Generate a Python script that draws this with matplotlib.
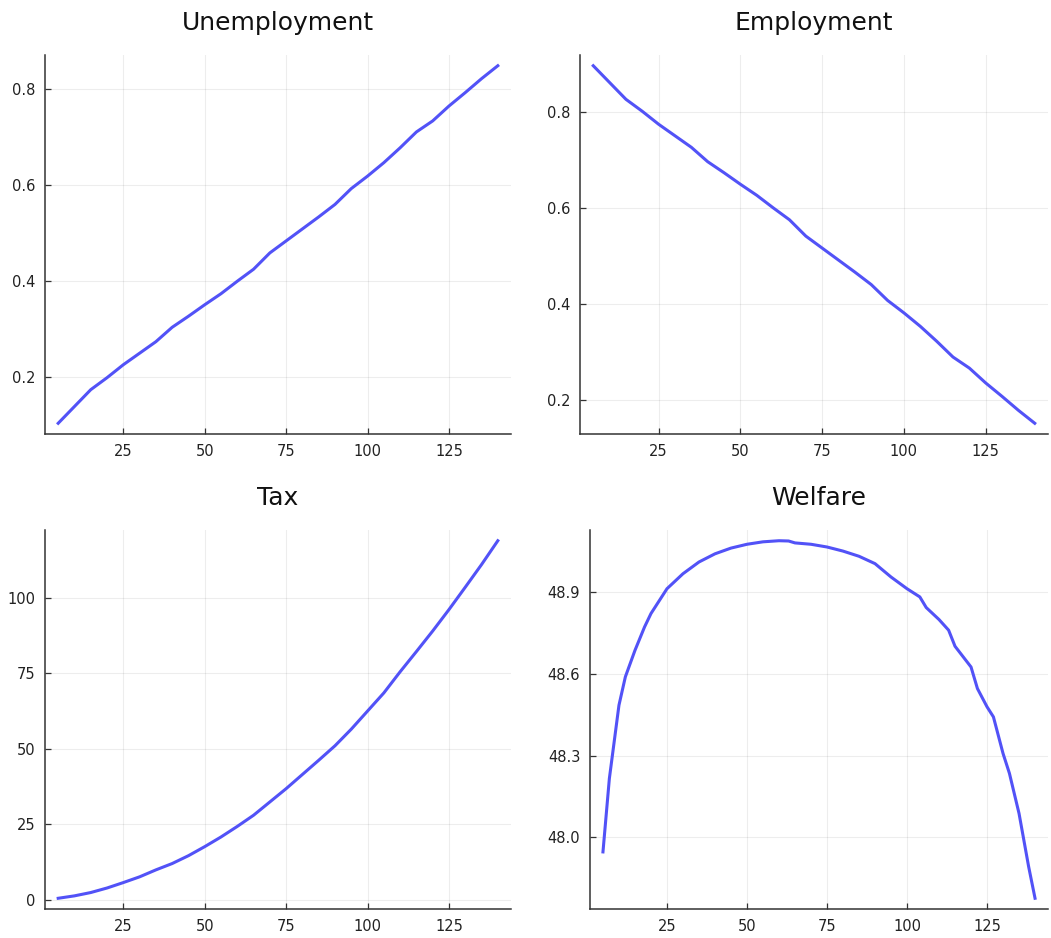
import matplotlib
matplotlib.use("Agg")
import matplotlib.pyplot as plt

# Benefit level on the horizontal axis
x_coarse = [5, 10, 15, 20, 25, 30, 35, 40, 45, 50, 55, 60, 65, 70,
            75, 80, 85, 90, 95, 100, 105, 110, 115, 120, 125, 130, 135, 140]

unemployment = [0.104, 0.139, 0.174, 0.199, 0.226, 0.250, 0.274, 0.304,
                0.327, 0.351, 0.374, 0.400, 0.425, 0.459, 0.484, 0.509,
                0.534, 0.560, 0.593, 0.619, 0.647, 0.678, 0.711, 0.734,
                0.765, 0.793, 0.822, 0.849]

employment = [0.896, 0.861, 0.826, 0.801, 0.774, 0.750, 0.726, 0.696,
              0.673, 0.649, 0.626, 0.600, 0.575, 0.541, 0.516, 0.491,
              0.466, 0.440, 0.407, 0.381, 0.353, 0.322, 0.289, 0.266,
              0.235, 0.207, 0.178, 0.151]

tax = [0.5, 1.3, 2.4, 3.9, 5.7, 7.6, 9.9, 12.0, 14.6, 17.6, 20.8, 24.3,
       28.0, 32.4, 36.8, 41.5, 46.2, 51.0, 56.5, 62.5, 68.5, 75.5, 82.2,
       89.0, 96.1, 103.5, 111.0, 118.9]

x_welfare = [5, 7, 10, 12, 15, 18, 20, 25, 30, 35, 40, 45, 50, 55, 60, 63,
             65, 70, 75, 80, 85, 90, 95, 100, 104, 106, 110, 113, 115, 120,
             122, 125, 127, 130, 132, 135, 138, 140]
welfare = [47.947, 48.216, 48.485, 48.589, 48.686, 48.772, 48.821, 48.912,
           48.967, 49.010, 49.040, 49.061, 49.075, 49.084, 49.088, 49.087,
           49.080, 49.075, 49.065, 49.050, 49.031, 49.004, 48.955, 48.912,
           48.882, 48.843, 48.799, 48.760, 48.701, 48.625, 48.546, 48.479,
           48.442, 48.308, 48.235, 48.088, 47.893, 47.777]

x_ticks = [25, 50, 75, 100, 125]
titles = ["Unemployment", "Employment", "Tax", "Welfare"]
y_ticks = [[0.2, 0.4, 0.6, 0.8],
           [0.2, 0.4, 0.6, 0.8],
           [0, 25, 50, 75, 100],
           [48.0, 48.3, 48.6, 48.9]]
y_labels = [["0.2", "0.4", "0.6", "0.8"],
            ["0.2", "0.4", "0.6", "0.8"],
            ["0", "25", "50", "75", "100"],
            ["48.0", "48.3", "48.6", "48.9"]]

series = [(x_coarse, unemployment), (x_coarse, employment),
          (x_coarse, tax), (x_welfare, welfare)]

W, H = 1051, 938
fig = plt.figure(figsize=(W / 100, H / 100), dpi=100)

# panel rectangles in pixels: left, right, top, bottom
boxes = [(45, 511, 55, 434), (580, 1048, 55, 434),
         (45, 511, 530, 909), (590, 1048, 530, 909)]

line_color = "#5252f7"
for i, (l, r, t, b) in enumerate(boxes):
    ax = fig.add_axes([l / W, 1 - b / H, (r - l) / W, (b - t) / H])
    xs, ys = series[i]
    ax.plot(xs, ys, color=line_color, lw=2.2, solid_joinstyle="round")
    ax.margins(x=0.03, y=0.03)
    ax.set_xticks(x_ticks)
    ax.set_xticklabels([str(v) for v in x_ticks])
    ax.set_yticks(y_ticks[i])
    ax.set_yticklabels(y_labels[i])
    ax.grid(True, color="#000000", alpha=0.07, lw=0.8)
    ax.set_axisbelow(True)
    for s in ("top", "right"):
        ax.spines[s].set_visible(False)
    for s in ("left", "bottom"):
        ax.spines[s].set_color("#333333")
        ax.spines[s].set_linewidth(1.1)
    ax.tick_params(direction="in", length=4, width=0.9, color="#333333",
                   labelsize=10.5, labelcolor="#222222", pad=7)
    ax.set_title(titles[i], fontsize=18, color="#111111", pad=18)

fig.savefig("out.png", dpi=100, facecolor="white")
